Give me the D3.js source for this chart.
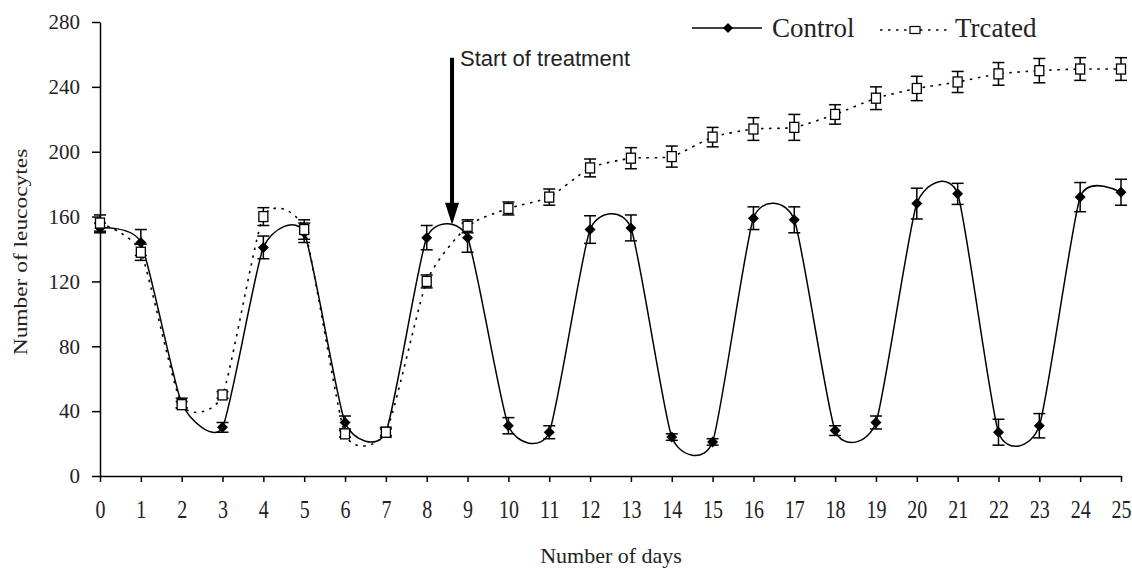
<!DOCTYPE html>
<html>
<head>
<meta charset="utf-8">
<script src="https://cdnjs.cloudflare.com/ajax/libs/d3/7.8.5/d3.min.js"></script>
<style>
  html, body { margin: 0; padding: 0; background: #fff; }
  svg { display: block; }
</style>
</head>
<body>
<svg id="chart" width="1132" height="571"></svg>
<script>
// ---- data ----
const days = [0,1,2,3,4,5,6,7,8,9,10,11,12,13,14,15,16,17,18,19,20,21,22,23,24,25];
const controlValues = [153,144,45,30,141,150,33,27,147,147,31,27,152,153,24,21,159,158,28,33,168,174,27,31,172,175];
const controlErrors = [3,8,3,3,7,6,4,3,7.5,9,5,4,8.5,8,2,2,7,8,3,4,9.5,6.5,8,7.5,9,8];
const treatedValues = [156,138,44,50,160,152,26,27,120,154,165,172,190,196,197,209,214,215,223,233,239,243,248,250,251,251];
const treatedErrors = [5,5,2,2,5.5,6,2,2,4,4,4,5,5.5,6.5,6.5,6,7,8,6,7,7.5,6.5,7,7.5,7,7];
const yTicks = [0,40,80,120,160,200,240,280];
const seriesNames = ["Control", "Trcated"];
const annotation = {text: "Start of treatment", day: 8.62, top: 258, tip: 155};

// ---- layout ----
const svg = d3.select("#chart");
const x = d3.scaleLinear().domain([0,25]).range([100,1121]);
const y = d3.scaleLinear().domain([0,280]).range([476,22]);
const serif = "'Liberation Serif', 'Times New Roman', serif";

// axes
const yAxis = svg.append("g").attr("transform", `translate(${x(0)},0)`)
  .call(d3.axisLeft(y).tickValues(yTicks).tickSize(8).tickSizeOuter(0).tickPadding(12));
yAxis.select(".domain").attr("stroke", "#000").attr("stroke-width", 1.5);
yAxis.selectAll(".tick line").attr("stroke", "#000").attr("stroke-width", 1.5);
yAxis.selectAll(".tick text").attr("font-family", serif).attr("font-size", 21).attr("fill", "#222");

const xAxis = svg.append("g").attr("transform", `translate(0,${y(0)})`)
  .call(d3.axisBottom(x).tickValues(days).tickSize(6).tickSizeOuter(0).tickFormat(d3.format("d")));
xAxis.select(".domain").attr("stroke", "#000").attr("stroke-width", 1.5);
xAxis.selectAll(".tick line").attr("stroke", "#000").attr("stroke-width", 1.5);
xAxis.selectAll(".tick text")
  .attr("font-family", serif).attr("font-size", 20).attr("fill", "#222")
  .attr("y", 0).attr("dy", 0)
  .attr("transform", "translate(0,42) scale(1,1.3)");

// axis titles
svg.append("text")
  .attr("transform", `translate(27,252) rotate(-90) scale(1.3,1)`)
  .attr("text-anchor", "middle")
  .attr("font-family", serif).attr("font-size", 18).attr("fill", "#222")
  .text("Number of leucocytes");
svg.append("text")
  .attr("x", 611).attr("y", 563)
  .attr("text-anchor", "middle")
  .attr("font-family", serif).attr("font-size", 22).attr("fill", "#222")
  .text("Number of days");

// lines
const curve = d3.curveCardinal.tension(0.42);
const controlData = days.map((d,i) => ({d, v: controlValues[i], e: controlErrors[i]}));
const treatedData = days.map((d,i) => ({d, v: treatedValues[i], e: treatedErrors[i]}));
const line = d3.line().x(p => x(p.d)).y(p => y(p.v)).curve(curve);

svg.append("path").datum(treatedData).attr("d", line)
  .attr("fill", "none").attr("stroke", "#000").attr("stroke-width", 1.6)
  .attr("stroke-dasharray", "2.5,5.5");
svg.append("path").datum(controlData).attr("d", line)
  .attr("fill", "none").attr("stroke", "#000").attr("stroke-width", 1.5);

// error bars
function errorBars(data) {
  const g = svg.append("g").attr("stroke", "#000").attr("stroke-width", 1.5);
  data.forEach(p => {
    const cx = x(p.d), t = y(p.v + p.e), b = y(p.v - p.e);
    g.append("line").attr("x1", cx).attr("x2", cx).attr("y1", t).attr("y2", b);
    g.append("line").attr("x1", cx-6).attr("x2", cx+6).attr("y1", t).attr("y2", t);
    g.append("line").attr("x1", cx-6).attr("x2", cx+6).attr("y1", b).attr("y2", b);
  });
}
errorBars(controlData);
errorBars(treatedData);

// markers
const diamond = (cx, cy, r) => `M${cx},${cy-r}L${cx+r},${cy}L${cx},${cy+r}L${cx-r},${cy}Z`;
svg.append("g").selectAll("path").data(controlData).join("path")
  .attr("d", p => diamond(x(p.d), y(p.v), 5.5)).attr("fill", "#000");
svg.append("g").selectAll("rect").data(treatedData).join("rect")
  .attr("x", p => x(p.d)-4.5).attr("y", p => y(p.v)-5)
  .attr("width", 9).attr("height", 10)
  .attr("fill", "#fff").attr("stroke", "#000").attr("stroke-width", 1.3);

// annotation arrow
const ax = x(annotation.day), aTop = y(annotation.top), aTip = y(annotation.tip);
svg.append("path")
  .attr("d", `M${ax-2},${aTop}L${ax+2},${aTop}L${ax+2},${aTip-22}L${ax+7},${aTip-22}L${ax},${aTip}L${ax-7},${aTip-22}L${ax-2},${aTip-22}Z`)
  .attr("fill", "#000");
svg.append("text")
  .attr("x", ax+8).attr("y", 66)
  .attr("font-family", "'Liberation Sans', Arial, sans-serif").attr("font-size", 22)
  .attr("fill", "#222")
  .text(annotation.text);

// legend
const leg = svg.append("g");
leg.append("line").attr("x1", 692).attr("x2", 762).attr("y1", 28).attr("y2", 28)
  .attr("stroke", "#000").attr("stroke-width", 1.5);
leg.append("path").attr("d", diamond(728, 28, 5)).attr("fill", "#000");
leg.append("text").attr("x", 772).attr("y", 37)
  .attr("font-family", serif).attr("font-size", 27).attr("fill", "#222").text(seriesNames[0]);
leg.append("line").attr("x1", 880).attr("x2", 948).attr("y1", 30).attr("y2", 30)
  .attr("stroke", "#000").attr("stroke-width", 1.6).attr("stroke-dasharray", "2.5,5.5");
leg.append("rect").attr("x", 910).attr("y", 26.5).attr("width", 10).attr("height", 7)
  .attr("fill", "#fff").attr("stroke", "#000").attr("stroke-width", 1.2);
leg.append("text").attr("x", 955).attr("y", 37)
  .attr("font-family", serif).attr("font-size", 27).attr("fill", "#222").text(seriesNames[1]);
</script>
</body>
</html>
